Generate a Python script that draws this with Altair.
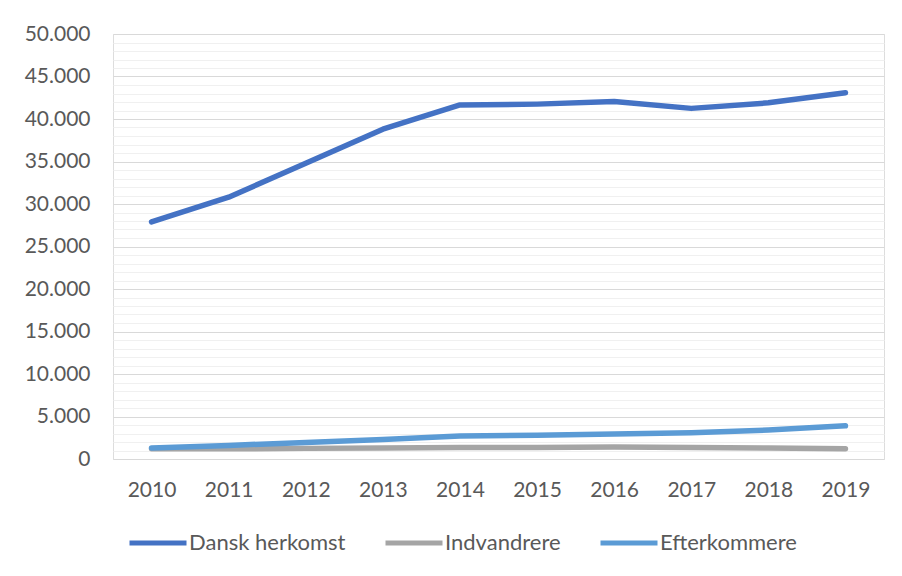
import altair as alt
import pandas as pd

years = ["2010", "2011", "2012", "2013", "2014", "2015", "2016", "2017", "2018", "2019"]
dansk = [27900, 30800, 34800, 38800, 41650, 41750, 42050, 41250, 41900, 43100]
indvandrere = [1200, 1200, 1250, 1300, 1350, 1350, 1400, 1350, 1300, 1200]
efterkommere = [1300, 1600, 1950, 2300, 2700, 2800, 2950, 3100, 3400, 3900]
series = ["Dansk herkomst", "Indvandrere", "Efterkommere"]
colors = ["#4472C4", "#A5A5A5", "#5B9BD5"]
y_ticks = list(range(0, 50001, 1000))

rows = []
for name, vals in zip(series, [dansk, indvandrere, efterkommere]):
    for yr, v in zip(years, vals):
        rows.append({"year": yr, "value": v, "serie": name})
df = pd.DataFrame(rows)

FONT = "Lato"
TXT = "#595959"

chart = alt.Chart(df).mark_line(strokeWidth=5.5, strokeCap="round", strokeJoin="round").encode(
    x=alt.X("year:O", scale=alt.Scale(type="point", padding=0.5),
            axis=alt.Axis(title=None, labelAngle=0, domain=False, ticks=False, grid=False,
                          labelPadding=20, labelFontSize=21, labelColor=TXT, labelFont=FONT)),
    y=alt.Y("value:Q", scale=alt.Scale(domain=[0, 50000], nice=False),
            axis=alt.Axis(title=None, values=y_ticks, domain=False, ticks=False,
                          labelExpr="datum.value % 5000 === 0 ? replace(format(datum.value, ','), ',', '.') : ''",
                          labelPadding=23, labelFontSize=21, labelColor=TXT, labelFont=FONT,
                          gridColor={"condition": {"test": "datum.value % 5000 === 0", "value": "#d9d9d9"},
                                     "value": "#f0f0f0"},
                          gridWidth=1)),
    color=alt.Color("serie:N", scale=alt.Scale(domain=series, range=colors), sort=series,
                    legend=alt.Legend(title=None, orient="none", direction="horizontal",
                                      legendX=14, legendY=478,
                                      symbolType="stroke", symbolSize=3249, symbolStrokeWidth=5,
                                      labelFontSize=22, labelColor=TXT, labelFont=FONT,
                                      labelOffset=0, columnPadding=29)),
    order=alt.Order("serie:N"),
).properties(
    width=771, height=425,
    autosize=alt.AutoSizeParams(type="none"),
    padding={"left": 105, "top": 26, "right": 10, "bottom": 109},
).configure_view(stroke=None).configure(background="white")

chart.save("out.html", embed_options={"renderer": "svg", "actions": False})
